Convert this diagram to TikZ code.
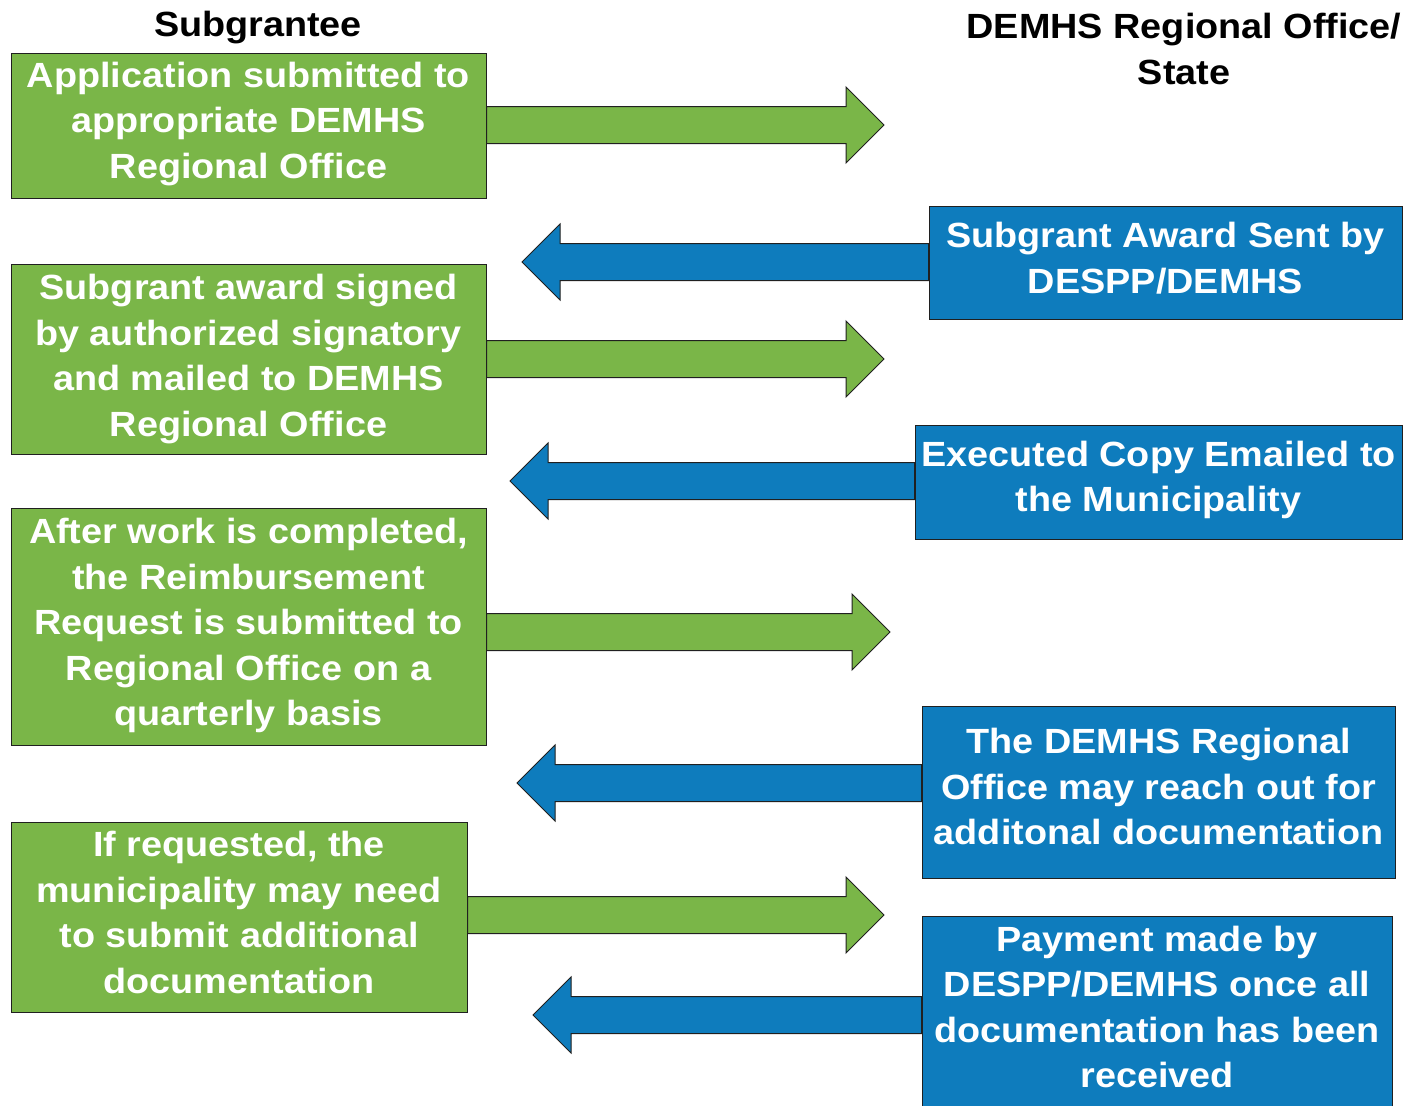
\documentclass[tikz,border=0pt]{standalone}
\usepackage{fontspec}
\setmainfont{Liberation Sans}[FakeStretch=1.08]
\usetikzlibrary{calc}
\definecolor{stepgreen}{HTML}{7AB648}
\definecolor{stepblue}{HTML}{0E7CBD}
\definecolor{edgegray}{HTML}{202020}

% Wide block arrow from the base point #2 to the tip #3 (horizontal)
\newcommand{\flowarrow}[3]{%
  \draw[#1] let \p1=(#2), \p2=(#3), \n1={ifthenelse(\x2>\x1,1,-1)} in
    (\x1,\y2+18.5pt) -- (\x2-\n1*38pt,\y2+18.5pt) -- (\x2-\n1*38pt,\y2+38pt)
    -- (\x2,\y2) -- (\x2-\n1*38pt,\y2-38pt) -- (\x2-\n1*38pt,\y2-18.5pt)
    -- (\x1,\y2-18.5pt) -- cycle;}

\tikzset{
  txt/.style={font=\fontsize{35}{45.5}\selectfont\bfseries, align=center, inner sep=0pt},
  boxtext/.style={txt, text=white},
  gbox/.style={rectangle, fill=stepgreen, draw=edgegray, line width=1pt},
  bbox/.style={rectangle, fill=stepblue, draw=edgegray, line width=1pt},
  garrow/.style={fill=stepgreen, draw=edgegray, line width=1pt, line join=miter},
  barrow/.style={fill=stepblue, draw=edgegray, line width=1pt, line join=miter},
  head/.style={txt, text=black}
}

\begin{document}
\begin{tikzpicture}[x=1pt, y=-1pt]
\useasboundingbox (0,0) rectangle (1406,1106);

% column headings
\node[head] (hleft) at (258,28) {Subgrantee};
\node[head] (hright) at (1184,49) {DEMHS Regional Office/\\State};

% subgrantee steps
\node[gbox, minimum width=475, minimum height=145] (g1) at (248.5,125.5) {};
\node[boxtext] (g1t) at ([yshift=1.5pt]g1.center)
  {Application submitted to\\appropriate DEMHS\\Regional Office};
\node[gbox, minimum width=475, minimum height=190] (g2) at (248.5,359) {};
\node[boxtext] (g2t) at (g2.center)
  {Subgrant award signed\\by authorized signatory\\and mailed to DEMHS\\Regional Office};
\node[gbox, minimum width=475, minimum height=237] (g3) at (248.5,626.5) {};
\node[boxtext] (g3t) at ([yshift=1pt]g3.center)
  {After work is completed,\\the Reimbursement\\Request is submitted to\\Regional Office on a\\quarterly basis};
\node[gbox, minimum width=456, minimum height=190] (g4) at (239,917) {};
\node[boxtext] (g4t) at ([yshift=4.5pt]g4.center)
  {If requested, the\\municipality may need\\to submit additional\\documentation};

% regional office / state steps
\node[bbox, minimum width=473, minimum height=113] (b1) at (1165.5,262.5) {};
\node[boxtext] (b1t) at ([yshift=4.5pt]b1.center)
  {Subgrant Award Sent by\\DESPP/DEMHS};
\node[bbox, minimum width=487, minimum height=114] (b2) at (1158.5,482) {};
\node[boxtext] (b2t) at ([yshift=2pt]b2.center)
  {Executed Copy Emailed to\\the Municipality};
\node[bbox, minimum width=473, minimum height=172] (b3) at (1158.5,792) {};
\node[boxtext] (b3t) at ([yshift=5.5pt]b3.center)
  {The DEMHS Regional\\Office may reach out for\\additonal documentation};
\node[bbox, minimum width=470, minimum height=192] (b4) at (1157,1012) {};
\node[boxtext] (b4t) at ([yshift=5pt]b4.center)
  {Payment made by\\DESPP/DEMHS once all\\documentation has been\\received};

% arrow tips
\coordinate (tg1) at (884,125);
\coordinate (tb1) at (522,262);
\coordinate (tg2) at (884,359);
\coordinate (tb2) at (510,481);
\coordinate (tg3) at (890,632);
\coordinate (tb3) at (517,783);
\coordinate (tg4) at (884,915);
\coordinate (tb4) at (533,1015);

% flow arrows between the columns
\flowarrow{garrow}{g1.east}{tg1}
\flowarrow{barrow}{b1.west}{tb1}
\flowarrow{garrow}{g2.east}{tg2}
\flowarrow{barrow}{b2.west}{tb2}
\flowarrow{garrow}{g3.east}{tg3}
\flowarrow{barrow}{b3.west}{tb3}
\flowarrow{garrow}{g4.east}{tg4}
\flowarrow{barrow}{b4.west}{tb4}
\end{tikzpicture}
\end{document}
